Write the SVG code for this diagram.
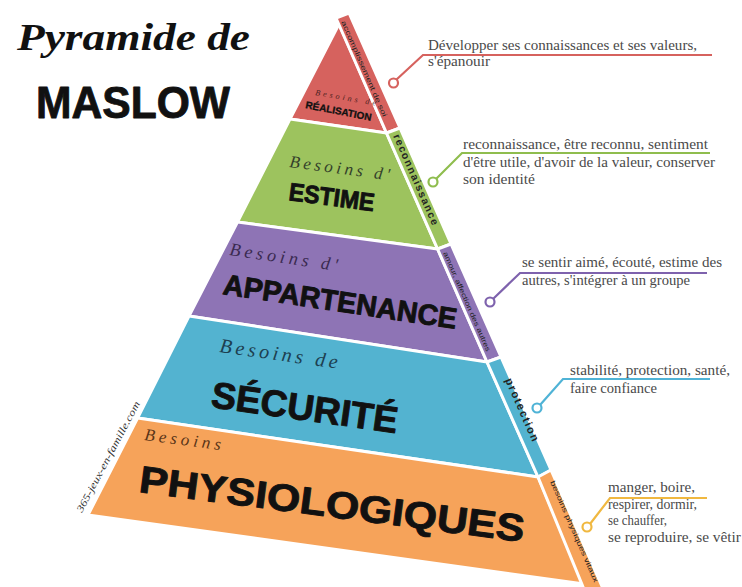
<svg xmlns="http://www.w3.org/2000/svg" width="742" height="587" viewBox="0 0 742 587">
<style>
.sep{stroke:#fff;stroke-width:3;stroke-linejoin:round}
.red{fill:#d6625e}.grn{fill:#9dc35e}.pur{fill:#8e74b5}.blu{fill:#53b3d0}.org{fill:#f6a35a}
.sm{font-family:"Liberation Serif",serif;font-style:italic;letter-spacing:3px}
.big{font-family:"Liberation Sans",Arial,sans-serif;font-weight:bold;fill:#111;stroke:#111;stroke-width:0.9;stroke-linejoin:round}
.side{font-family:"Liberation Sans",Arial,sans-serif;fill:#222}
.desc{font-family:"Liberation Serif",serif;font-size:14px;fill:#4a4a4a}
.con{fill:none;stroke-width:2.2}
.ring{fill:#fff;stroke-width:2.2}
</style>
<rect width="742" height="587" fill="#fff"/>
<g id="title">
<text x="17" y="50" font-family="Liberation Serif,serif" font-style="italic" font-weight="bold" font-size="38" textLength="233" lengthAdjust="spacingAndGlyphs" fill="#111">Pyramide de</text>
<text x="36" y="118" class="big" font-size="45" textLength="194" lengthAdjust="spacingAndGlyphs">MASLOW</text>
</g>
<g id="watermark">
<text transform="translate(82,513) rotate(-62)" font-family="Liberation Serif,serif" font-style="italic" font-size="10" fill="#333" textLength="124" lengthAdjust="spacingAndGlyphs">365-jeux-en-famille.com</text>
</g>
<g id="realisation">
<polygon class="red sep" points="339,24 290,119 386.5,133"/>
<polygon class="red sep" points="336,18 349,13 400,128 386.5,133"/>
<text transform="translate(315,95) rotate(10)" class="sm" font-size="8" fill="#4a2020" letter-spacing="1">Besoins de</text>
<text transform="translate(305,108) rotate(11)" class="big" font-size="10" style="stroke-width:0.3">RÉALISATION</text>
<text transform="translate(341,22) rotate(66.3)" class="side" font-size="7" textLength="104" lengthAdjust="spacingAndGlyphs">accomplissement de soi</text>
</g>
<g id="estime">
<polygon class="grn sep" points="290,119 386.5,133 437.6,249 237.5,222"/>
<polygon class="grn sep" points="386.5,133 400,128 451,244 437.6,249"/>
<text transform="translate(289,167) rotate(7.5)" class="sm" font-size="17" fill="#33402a" textLength="104">Besoins d'</text>
<text transform="translate(288,200) rotate(7.5)" class="big" font-size="25" textLength="86" lengthAdjust="spacingAndGlyphs">ESTIME</text>
<text transform="translate(393,136) rotate(66.3)" class="side" font-size="10.5" font-weight="bold" textLength="98">reconnaissance</text>
</g>
<g id="appartenance">
<polygon class="pur sep" points="237.5,222 437.6,249 487,362 189,316"/>
<polygon class="pur sep" points="437.6,249 451,244 501,357 487,362"/>
<text transform="translate(229,255) rotate(8.5)" class="sm" font-size="18" fill="#3a2a50" textLength="112">Besoins d'</text>
<text transform="translate(222,294) rotate(8.5)" class="big" font-size="29" textLength="236" lengthAdjust="spacingAndGlyphs">APPARTENANCE</text>
<text transform="translate(443,253) rotate(66.3)" class="side" font-size="7" textLength="108" lengthAdjust="spacingAndGlyphs">amour, affection des autres</text>
</g>
<g id="securite">
<polygon class="blu sep" points="189,316 487,362 538,477 137.6,418"/>
<polygon class="blu sep" points="487,362 501,357 551,470 538,477"/>
<text transform="translate(219,352) rotate(8)" class="sm" font-size="20" fill="#1d4050" textLength="122">Besoins de</text>
<text transform="translate(210,407) rotate(8)" class="big" font-size="37" textLength="188" lengthAdjust="spacingAndGlyphs">SÉCURITÉ</text>
<text transform="translate(505,380) rotate(66.3)" class="side" font-size="11" font-weight="bold" textLength="68">protection</text>
</g>
<g id="physiologiques">
<polygon class="org sep" points="137.6,418 538,477 584,584 88,515"/>
<polygon class="org sep" points="538,477 551,470 608,600 590,604"/>
<text transform="translate(144,440) rotate(7.5)" class="sm" font-size="17" fill="#5a3518" textLength="80">Besoins</text>
<text transform="translate(138,492) rotate(7.4)" class="big" font-size="38" textLength="388" lengthAdjust="spacingAndGlyphs">PHYSIOLOGIQUES</text>
<text transform="translate(550,482) rotate(66.3)" class="side" font-size="7" textLength="110" lengthAdjust="spacingAndGlyphs">besoins physiques vitaux</text>
</g>
<g id="connectors">
<path class="con" stroke="#d6625e" d="M396,80 L423,55 L712,55"/>
<circle class="ring" stroke="#d6625e" cx="393.5" cy="83" r="4.5"/>
<path class="con" stroke="#8fbd4e" d="M436,179 L462,153 L710,153"/>
<circle class="ring" stroke="#8fbd4e" cx="433" cy="182" r="4.5"/>
<path class="con" stroke="#7e62ad" d="M493,299 L520,273 L707,273"/>
<circle class="ring" stroke="#7e62ad" cx="490" cy="302" r="4.5"/>
<path class="con" stroke="#4fb3d6" d="M540,405 L563,379 L710,379"/>
<circle class="ring" stroke="#4fb3d6" cx="537" cy="408" r="4.5"/>
<path class="con" stroke="#f0b840" d="M590,524 L610,498 L707,498"/>
<circle class="ring" stroke="#f0b840" cx="587" cy="527" r="4.5"/>
</g>
<g id="descriptions">
<text class="desc" x="428" y="50" textLength="269" lengthAdjust="spacingAndGlyphs">Développer ses connaissances et ses valeurs,</text>
<text class="desc" x="428" y="66" textLength="62" lengthAdjust="spacingAndGlyphs">s'épanouir</text>
<text class="desc" x="463" y="149" textLength="245" lengthAdjust="spacingAndGlyphs">reconnaissance, être reconnu, sentiment</text>
<text class="desc" x="463" y="167" textLength="252" lengthAdjust="spacingAndGlyphs">d'être utile, d'avoir de la valeur, conserver</text>
<text class="desc" x="463" y="184" textLength="72" lengthAdjust="spacingAndGlyphs">son identité</text>
<text class="desc" x="522" y="267" textLength="200" lengthAdjust="spacingAndGlyphs">se sentir aimé, écouté, estime des</text>
<text class="desc" x="522" y="285" textLength="168" lengthAdjust="spacingAndGlyphs">autres, s'intégrer à un groupe</text>
<text class="desc" x="570" y="375" textLength="160" lengthAdjust="spacingAndGlyphs">stabilité, protection, santé,</text>
<text class="desc" x="570" y="393" textLength="87" lengthAdjust="spacingAndGlyphs">faire confiance</text>
<text class="desc" x="608" y="492" textLength="87" lengthAdjust="spacingAndGlyphs">manger, boire,</text>
<text class="desc" x="608" y="509" textLength="89" lengthAdjust="spacingAndGlyphs">respirer, dormir,</text>
<text class="desc" x="608" y="525" textLength="59" lengthAdjust="spacingAndGlyphs">se chauffer,</text>
<text class="desc" x="608" y="542" textLength="133" lengthAdjust="spacingAndGlyphs">se reproduire, se vêtir</text>
</g>
</svg>
